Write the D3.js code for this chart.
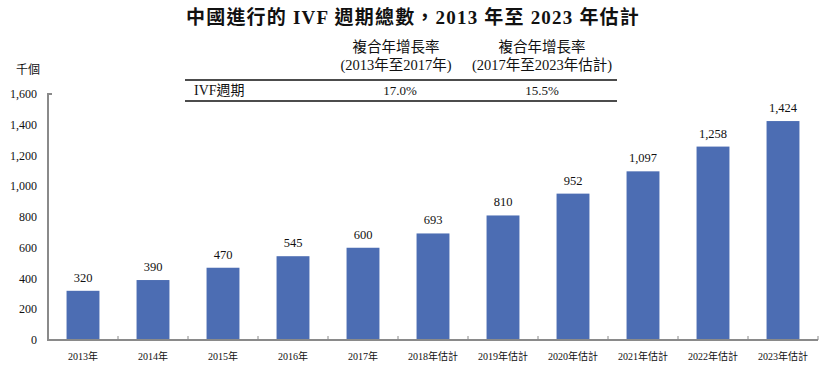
<!DOCTYPE html>
<html>
<head>
<meta charset="utf-8">
<script src="https://cdn.jsdelivr.net/npm/d3@7"></script>
<style>
  body { margin: 0; background: #fff; }
  text { font-family: "Liberation Serif", "Noto Sans CJK TC", serif; fill: #111; }
</style>
</head>
<body>
<svg id="chart" width="828" height="367"></svg>
<script>
const years = ['2013年', '2014年', '2015年', '2016年', '2017年', '2018年估計', '2019年估計',
  '2020年估計', '2021年估計', '2022年估計', '2023年估計']
const cycles = [320, 390, 470, 545, 600, 693, 810, 952, 1097, 1258, 1424]
const yTicks = [0, 200, 400, 600, 800, 1000, 1200, 1400, 1600]
const cagrHeads = ['(2013年至2017年)', '(2017年至2023年估計)']
const cagrValues = ['17.0%', '15.5%']

const svg = d3.select('#chart')

const x = d3.scaleBand()
  .domain(years)
  .range([48, 818])

const y = d3.scaleLinear()
  .domain([0, 1600])
  .range([340, 94])

const barW = x.bandwidth() * 0.47

// title
svg.append('text')
  .attr('x', 413)
  .attr('y', 24)
  .attr('text-anchor', 'middle')
  .style('font-size', '19px')
  .style('font-weight', 'bold')
  .style('letter-spacing', '1.2px')
  .text('中國進行的 IVF 週期總數，2013 年至 2023 年估計')

// growth table
const colX = [396, 542]
svg.selectAll('.head1')
  .data(cagrHeads)
  .enter()
  .append('text')
  .attr('x', (d, i) => colX[i])
  .attr('y', 52)
  .attr('text-anchor', 'middle')
  .style('font-size', '14.5px')
  .text('複合年增長率')

svg.selectAll('.head2')
  .data(cagrHeads)
  .enter()
  .append('text')
  .attr('x', (d, i) => colX[i])
  .attr('y', 70)
  .attr('text-anchor', 'middle')
  .style('font-size', '14.5px')
  .text(d => d)

;[80, 101].forEach((ly) => {
  svg.append('line')
    .attr('x1', 185).attr('x2', 617)
    .attr('y1', ly).attr('y2', ly)
    .attr('stroke', '#111')
    .attr('stroke-width', 1.5)
})

svg.append('text')
  .attr('x', 194)
  .attr('y', 95)
  .style('font-size', '14px')
  .text('IVF週期')

svg.selectAll('.cagr')
  .data(cagrValues)
  .enter()
  .append('text')
  .attr('x', (d, i) => colX[i] + (i === 0 ? 4 : 0))
  .attr('y', 95)
  .attr('text-anchor', 'middle')
  .style('font-size', '13px')
  .text(d => d)

// unit label
svg.append('text')
  .attr('x', 28)
  .attr('y', 74)
  .attr('text-anchor', 'middle')
  .style('font-size', '12px')
  .text('千個')

// y tick labels
svg.selectAll('.ytick')
  .data(yTicks)
  .enter()
  .append('text')
  .attr('x', 37)
  .attr('y', d => y(d))
  .attr('dy', '0.35em')
  .attr('text-anchor', 'end')
  .style('font-size', '12px')
  .text(d => d3.format(',')(d))

// bars
svg.selectAll('.bar')
  .data(cycles)
  .enter()
  .append('rect')
  .attr('x', (d, i) => x(years[i]) + (x.bandwidth() - barW) / 2)
  .attr('y', d => y(d))
  .attr('width', barW)
  .attr('height', d => y(0) - y(d))
  .attr('fill', '#4c6db3')

svg.selectAll('.val')
  .data(cycles)
  .enter()
  .append('text')
  .attr('x', (d, i) => x(years[i]) + x.bandwidth() / 2)
  .attr('y', d => y(d) - 9)
  .attr('text-anchor', 'middle')
  .style('font-size', '12.5px')
  .text(d => d3.format(',')(d))

// axes
const axisColor = '#8a8a8a'
svg.append('path')
  .attr('d', `M52,${y(1600)}H48V${y(0)}H818`)
  .attr('fill', 'none')
  .attr('stroke', axisColor)
  .attr('stroke-width', 2)

svg.selectAll('.xtick')
  .data(years)
  .enter()
  .append('line')
  .attr('x1', d => x(d) + x.bandwidth())
  .attr('x2', d => x(d) + x.bandwidth())
  .attr('y1', y(0))
  .attr('y2', y(0) - 4)
  .attr('stroke', axisColor)
  .attr('stroke-width', 1)

svg.selectAll('.xlab')
  .data(years)
  .enter()
  .append('text')
  .attr('x', d => x(d) + x.bandwidth() / 2)
  .attr('y', 360)
  .attr('text-anchor', 'middle')
  .style('font-size', '10px')
  .text(d => d)
</script>
</body>
</html>
